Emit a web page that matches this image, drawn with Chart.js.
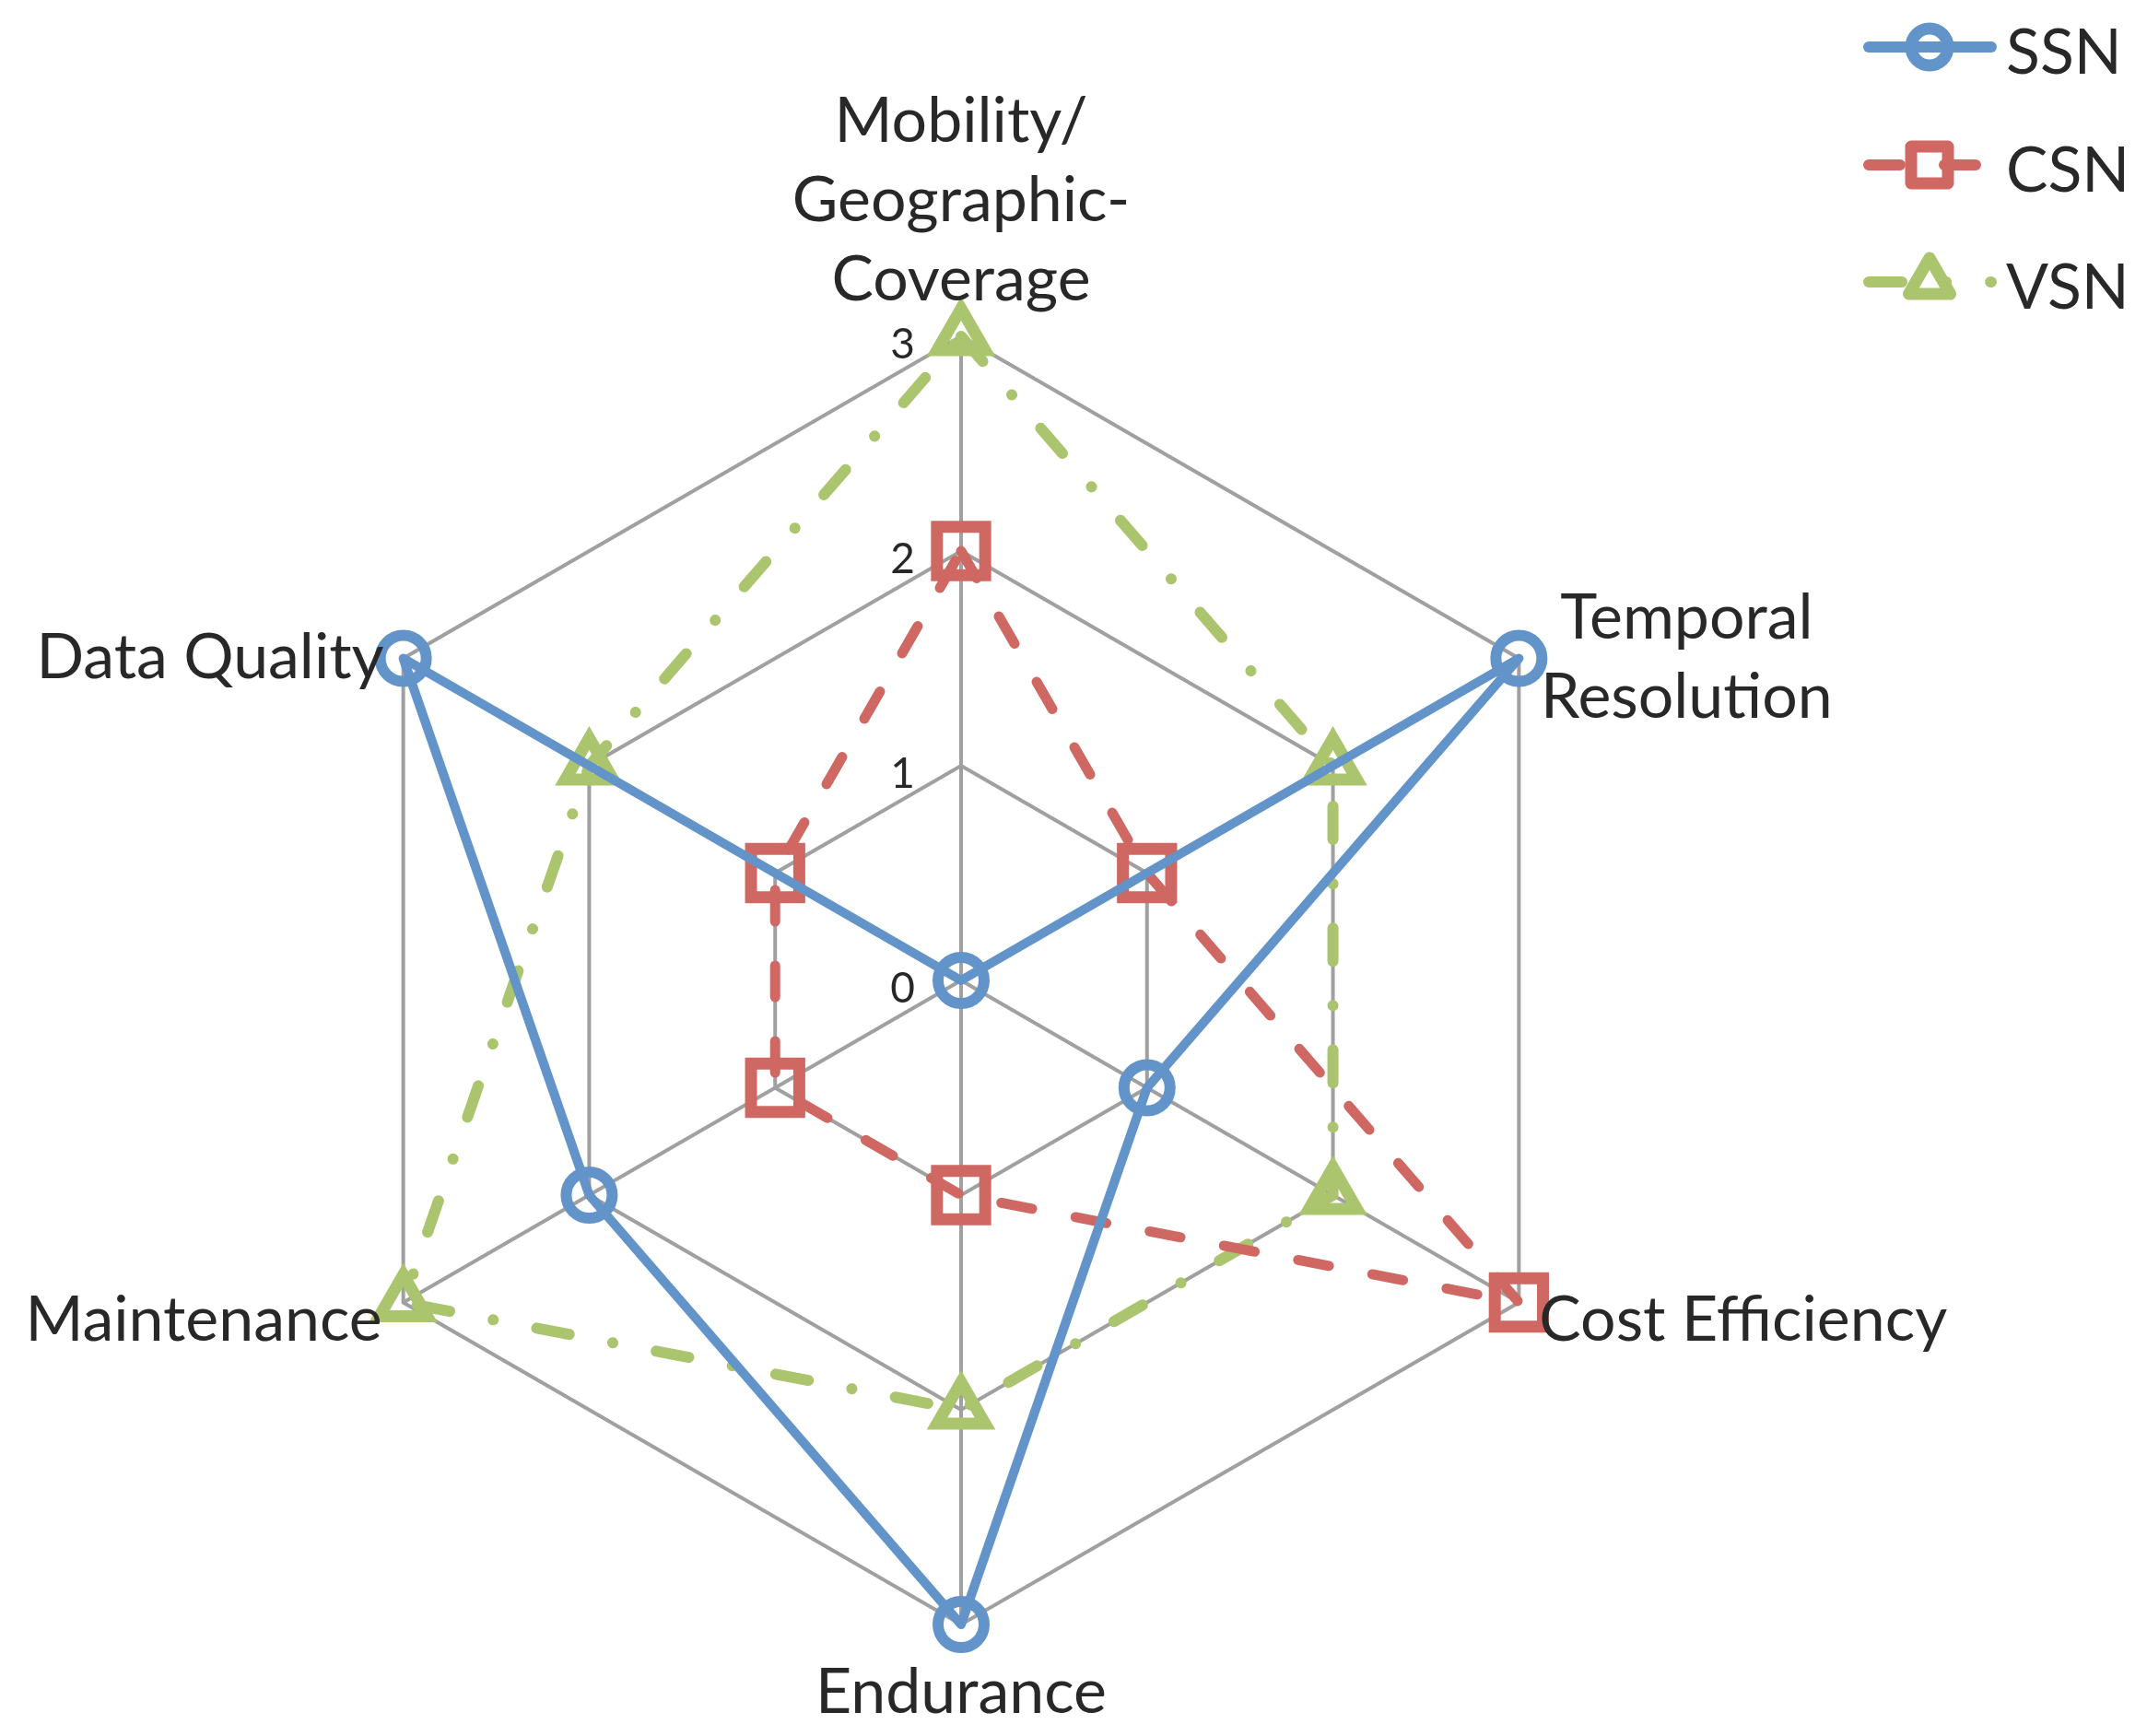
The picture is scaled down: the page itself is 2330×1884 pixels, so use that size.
<!DOCTYPE html>
<html>
<head>
<meta charset="utf-8">
<script src="https://cdn.jsdelivr.net/npm/chart.js@4.4.1/dist/chart.umd.min.js"></script>
<style>
  html, body { margin: 0; padding: 0; background: #ffffff; }
  canvas { display: block; }
</style>
</head>
<body>
<canvas id="radar" width="2330" height="1884"></canvas>
<script>
// values
const categories = [['Mobility/', 'Geographic-', 'Coverage'], ['Temporal', 'Resolution'], 'Cost Efficiency', 'Endurance', 'Maintenance', 'Data Quality'];
const seriesNames = ['SSN', 'CSN', 'VSN'];
const ssnValues = [0, 3, 1, 3, 2, 3];
const csnValues = [2, 1, 3, 1, 1, 1];
const vsnValues = [3, 2, 2, 2, 3, 2];
const tickValues = [0, 1, 2, 3];

const BLUE = '#6294CA';
const RED = '#CF6863';
const GREEN = '#ABC46E';
const GRID = '#A0A0A0';
const TEXT = '#282828';
const FONT = 'Lato, "Open Sans", sans-serif';

// where each axis label sits relative to the outer vertex
const labelPlacement = [
  { align: 'center', dx: 0, dy: -39 },
  { align: 'center', dx: 182, dy: -22 },
  { align: 'left', dx: 22, dy: 41 },
  { align: 'center', dx: 0, dy: 96 },
  { align: 'right', dx: -23, dy: 41 },
  { align: 'right', dx: -21, dy: 21 }
];

function drawMarker(ctx, style, x, y, r) {
  ctx.beginPath();
  if (style === 'circle') {
    ctx.arc(x, y, r, 0, Math.PI * 2);
  } else if (style === 'rect') {
    ctx.rect(x - r, y - r, r * 2, r * 2);
  } else {
    for (let k = 0; k < 3; k++) {
      const a = -Math.PI / 2 + k * Math.PI * 2 / 3;
      const px = x + Math.cos(a) * r, py = y + Math.sin(a) * r;
      if (k === 0) ctx.moveTo(px, py); else ctx.lineTo(px, py);
    }
    ctx.closePath();
  }
  ctx.stroke();
}

const overlayPlugin = {
  id: 'overlay',
  afterDraw(chart) {
    const ctx = chart.ctx;
    const scale = chart.scales.r;

    // axis labels
    ctx.save();
    ctx.fillStyle = TEXT;
    ctx.font = '68px ' + FONT;
    ctx.textBaseline = 'alphabetic';
    categories.forEach((cat, i) => {
      const p = scale.getPointPosition(i, scale.drawingArea);
      const lines = Array.isArray(cat) ? cat : [cat];
      const place = labelPlacement[i];
      ctx.textAlign = place.align;
      const lineH = 86;
      // dy is the baseline of the last line for the top label, first line otherwise
      lines.forEach((txt, j) => {
        let y;
        if (i === 0) y = p.y + place.dy - (lines.length - 1 - j) * lineH;
        else y = p.y + place.dy + j * lineH;
        ctx.fillText(txt, p.x + place.dx, y);
      });
    });

    // tick labels
    ctx.font = '46px ' + FONT;
    ctx.textAlign = 'right';
    ctx.textBaseline = 'middle';
    tickValues.forEach(v => {
      const d = scale.getDistanceFromCenterForValue(v);
      ctx.fillText(String(v), scale.xCenter - 50, scale.yCenter - d + 9);
    });

    // legend
    const rows = [51, 179, 306];
    const markers = ['circle', 'rect', 'triangle'];
    const markerR = [20, 20, 26];
    chart.data.datasets.forEach((ds, i) => {
      const y = rows[i];
      ctx.strokeStyle = ds.borderColor;
      ctx.lineWidth = 12;
      ctx.lineCap = 'round';
      ctx.setLineDash(ds.borderDash || []);
      ctx.beginPath();
      ctx.moveTo(2028, y);
      ctx.lineTo(2161, y);
      ctx.stroke();
      ctx.setLineDash([]);
      ctx.lineWidth = 13;
      ctx.lineJoin = 'round';
      drawMarker(ctx, markers[i], 2094, y, markerR[i]);
      ctx.fillStyle = TEXT;
      ctx.font = '68px ' + FONT;
      ctx.textAlign = 'left';
      ctx.textBaseline = 'alphabetic';
      ctx.fillText(ds.label, 2177, y + 29);
    });
    ctx.restore();
  }
};

function buildDatasets() {
  return [
    {
      label: seriesNames[0],
      data: ssnValues,
      borderColor: BLUE,
      borderWidth: 10,
      pointStyle: 'circle',
      pointRadius: 25,
      pointBorderWidth: 12,
      pointBorderColor: BLUE
    },
    {
      label: seriesNames[1],
      data: csnValues,
      borderColor: RED,
      borderWidth: 11,
      borderDash: [34, 48],
      pointStyle: 'rect',
      pointRadius: 37,
      pointBorderWidth: 13,
      pointBorderColor: RED
    },
    {
      label: seriesNames[2],
      data: vsnValues,
      borderColor: GREEN,
      borderWidth: 12,
      borderDash: [36, 48, 0.1, 48],
      pointStyle: 'triangle',
      pointRadius: 30,
      pointBorderWidth: 13,
      pointBorderColor: GREEN
    }
  ].map(ds => Object.assign(ds, {
    fill: false,
    backgroundColor: 'rgba(0,0,0,0)',
    pointBackgroundColor: 'rgba(0,0,0,0)',
    borderCapStyle: 'round',
    borderJoinStyle: 'round',
    tension: 0
  }));
}

const ctx = document.getElementById('radar').getContext('2d');
new Chart(ctx, {
  type: 'radar',
  data: {
    labels: categories,
    datasets: buildDatasets()
  },
  options: {
    responsive: false,
    animation: false,
    devicePixelRatio: 1,
    layout: { padding: { left: 344, right: 588, top: 365, bottom: 121 } },
    plugins: {
      legend: { display: false },
      tooltip: { enabled: false }
    },
    scales: {
      r: {
        min: 0,
        max: 3,
        ticks: { stepSize: 1, display: false },
        pointLabels: { display: false },
        grid: { color: GRID, lineWidth: 4 },
        angleLines: { color: GRID, lineWidth: 4 }
      }
    }
  },
  plugins: [overlayPlugin]
});
</script>
</body>
</html>
